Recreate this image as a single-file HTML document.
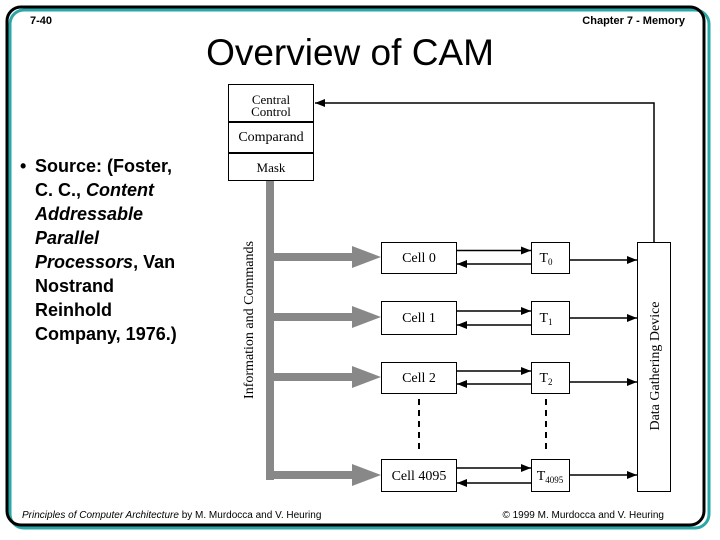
<!DOCTYPE html>
<html><head><meta charset="utf-8"><style>
html,body{margin:0;padding:0;background:#fff;}
svg{display:block;}
</style></head><body>
<svg width="720" height="540" viewBox="0 0 720 540" xmlns="http://www.w3.org/2000/svg">
<defs>
<marker id="ah" markerWidth="10" markerHeight="8" refX="10" refY="4" orient="auto" markerUnits="userSpaceOnUse">
<path d="M0,0 L10,4 L0,8 Z" fill="#000"/>
</marker>
</defs>
<rect x="10" y="10" width="699" height="518" rx="14" fill="none" stroke="#2aa7a7" stroke-width="3"/>
<rect x="7" y="7" width="697" height="518" rx="14" fill="none" stroke="#000" stroke-width="3"/>
<g font-family="Liberation Sans, Arial, sans-serif">
<text x="30" y="24" font-size="11" font-weight="bold">7-40</text>
<text x="685" y="24" font-size="11" font-weight="bold" text-anchor="end">Chapter 7 - Memory</text>
<text x="350" y="65" font-size="37" text-anchor="middle">Overview of CAM</text>
<g font-size="18" font-weight="bold">
<text x="20" y="172">•</text>
<text x="35" y="172">Source: (Foster,</text>
<text x="35" y="196">C. C., <tspan font-style="italic">Content</tspan></text>
<text x="35" y="220" font-style="italic">Addressable</text>
<text x="35" y="244" font-style="italic">Parallel</text>
<text x="35" y="268"><tspan font-style="italic">Processors</tspan>, Van</text>
<text x="35" y="292">Nostrand</text>
<text x="35" y="316">Reinhold</text>
<text x="35" y="340">Company, 1976.)</text>
</g>
<text x="22" y="518" font-size="10"><tspan font-style="italic">Principles of Computer Architecture</tspan> by M. Murdocca and V. Heuring</text>
<text x="664" y="518" font-size="10" text-anchor="end">© 1999 M. Murdocca and V. Heuring</text>
</g>
<g fill="#888">
<rect x="266" y="180" width="8" height="300"/>
<rect x="266" y="253" width="90" height="8"/><path d="M352,246 L381,257 L352,268 Z"/>
<rect x="266" y="313" width="90" height="8"/><path d="M352,306 L381,317 L352,328 Z"/>
<rect x="266" y="373" width="90" height="8"/><path d="M352,366 L381,377 L352,388 Z"/>
<rect x="266" y="471" width="90" height="8"/><path d="M352,464 L381,475 L352,486 Z"/>
</g>
<g font-family="Liberation Serif, serif" fill="#000">
<rect x="228.5" y="84.5" width="85" height="96" fill="#fff" stroke="#000"/>
<line x1="228" y1="122" x2="314" y2="122" stroke="#000" stroke-width="2"/>
<line x1="228" y1="153" x2="314" y2="153" stroke="#000" stroke-width="2"/>
<text x="271" y="104" font-size="13" text-anchor="middle">Central</text>
<text x="271" y="116" font-size="13" text-anchor="middle">Control</text>
<text x="271" y="141" font-size="14" text-anchor="middle">Comparand</text>
<text x="271" y="172" font-size="13" text-anchor="middle">Mask</text>
<text transform="translate(253,320) rotate(-90)" font-size="14" text-anchor="middle">Information and Commands</text>
<polyline points="654,242 654,103 315,103" fill="none" stroke="#000" stroke-width="1.5" marker-end="url(#ah)"/>
<rect x="637.5" y="242.5" width="33" height="249" fill="#fff" stroke="#000"/>
<text transform="translate(659,366) rotate(-90)" font-size="14" text-anchor="middle">Data Gathering Device</text>
<g stroke="#000" fill="#fff">
<rect x="381.5" y="242.5" width="75" height="31"/>
<rect x="381.5" y="301.5" width="75" height="33"/>
<rect x="381.5" y="362.5" width="75" height="31"/>
<rect x="381.5" y="459.5" width="75" height="32"/>
<rect x="531.5" y="242.5" width="38" height="31"/>
<rect x="531.5" y="301.5" width="38" height="33"/>
<rect x="531.5" y="362.5" width="38" height="31"/>
<rect x="531.5" y="459.5" width="38" height="32"/>
</g>
<g font-size="14" text-anchor="middle">
<text x="419" y="262">Cell 0</text>
<text x="419" y="322">Cell 1</text>
<text x="419" y="382">Cell 2</text>
<text x="419" y="480">Cell 4095</text>
<text x="546" y="262">T<tspan font-size="9" dy="3">0</tspan></text>
<text x="546" y="322">T<tspan font-size="9" dy="3">1</tspan></text>
<text x="546" y="382">T<tspan font-size="9" dy="3">2</tspan></text>
<text x="550" y="480">T<tspan font-size="9" dy="3">4095</tspan></text>
</g>
<g stroke="#000" stroke-width="1.5" marker-end="url(#ah)">
<line x1="457" y1="250.5" x2="531" y2="250.5"/>
<line x1="531" y1="264" x2="457" y2="264"/>
<line x1="570" y1="260" x2="637" y2="260"/>
<line x1="457" y1="311" x2="531" y2="311"/>
<line x1="531" y1="325" x2="457" y2="325"/>
<line x1="570" y1="318" x2="637" y2="318"/>
<line x1="457" y1="371" x2="531" y2="371"/>
<line x1="531" y1="384" x2="457" y2="384"/>
<line x1="570" y1="382" x2="637" y2="382"/>
<line x1="457" y1="468" x2="531" y2="468"/>
<line x1="531" y1="483" x2="457" y2="483"/>
<line x1="570" y1="475" x2="637" y2="475"/>
</g>
<g stroke="#000" stroke-width="2" stroke-dasharray="6,5">
<line x1="419" y1="399" x2="419" y2="451"/>
<line x1="546" y1="399" x2="546" y2="451"/>
</g>
</g>
</svg>
</body></html>
